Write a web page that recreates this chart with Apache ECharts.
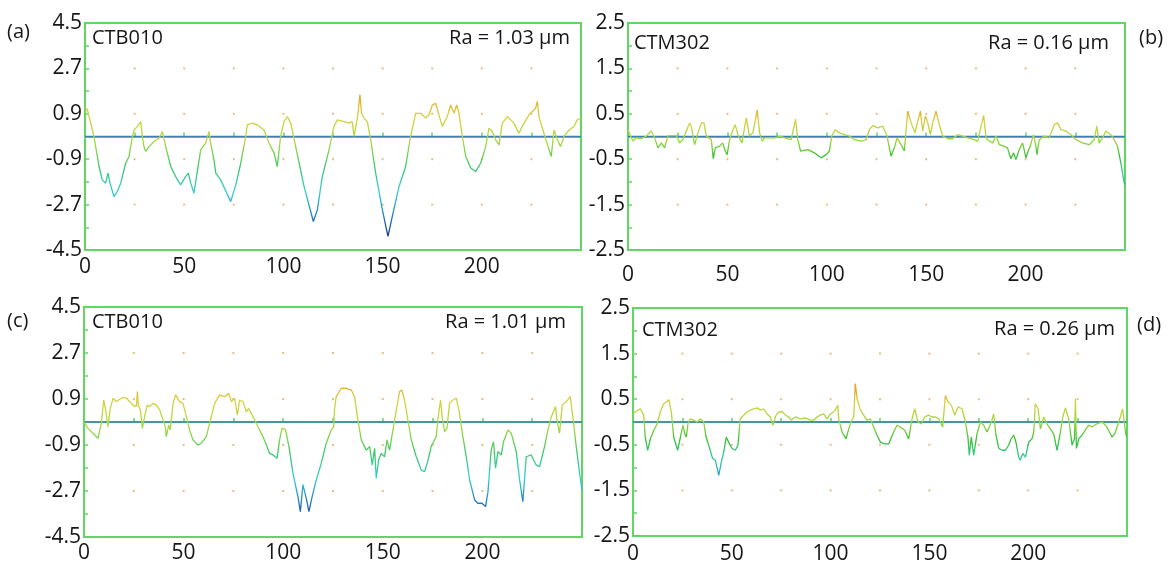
<!DOCTYPE html>
<html>
<head>
<meta charset="utf-8">
<title>Surface roughness profiles</title>
<script src="https://cdn.jsdelivr.net/npm/echarts@6/dist/echarts.min.js"></script>
<style>
  html, body { margin: 0; padding: 0; background: #ffffff; }
  #chart { width: 1171px; height: 565px; }
</style>
</head>
<body>
<div id="chart"></div>
<script>
// Profile traces: [position, height in µm]
const profileA = [
  [0,1.15],[1.2,1.06],[2.9,0.53],[4.5,0],[7.1,-1.19],[8.7,-1.72],[10.4,-1.85],[11.6,-1.45],[12.6,-1.85],
  [14.6,-2.38],[16.3,-2.18],[18.0,-1.85],[20.5,-1.06],[22.2,-0.79],[23.9,0],[24.7,0.26],[26.4,0.40],
  [28.1,0.59],[28.9,0],[29.7,-0.40],[30.6,-0.59],[32.3,-0.40],[34.8,-0.20],[37.3,-0.07],[39.0,0.20],
  [40.7,-0.40],[43.2,-1.19],[45.7,-1.59],[48.2,-1.92],[50.7,-1.59],[52.1,-1.45],[53.3,-1.85],[54.9,-2.25],
  [56.6,-1.39],[58.3,-0.53],[60.8,-0.26],[62.5,0.20],[63.3,-0.26],[65.0,-0.92],[65.9,-1.45],[68.4,-1.72],
  [73.4,-2.58],[76.0,-1.92],[78.5,-1.06],[81.0,0],[81.8,0.46],[84.3,0.53],[86.9,0.46],[90.2,0.26],
  [92.7,-0.26],[95.3,-0.66],[96.9,-1.19],[98.6,0],[100.3,0.59],[102.0,0.79],[103.7,0.53],[106.2,-0.40],
  [110.4,-1.98],[115.1,-3.37],[117.1,-2.91],[119.6,-1.59],[123.0,-0.53],[125.5,0.40],[127.2,0.66],
  [130.5,0.59],[133.1,0.53],[134.7,0.59],[135.6,0],[137.3,0.73],[138.6,1.65],[139.4,0.92],[140.6,0.73],
  [142.3,0.59],[144.0,-0.13],[146.5,-1.45],[149.9,-2.91],[152.7,-3.96],[154.9,-3.17],[158.3,-1.98],
  [161.6,-1.19],[164.1,0],[166.7,0.92],[169.2,0.92],[171.7,0.73],[173.4,0.86],[175.1,1.25],[176.7,1.32],
  [178.4,0.86],[180.1,0.40],[182.6,0.79],[184.3,1.25],[186.0,0.92],[187.3,1.25],[188.5,0.92],[190.2,0],
  [191.9,-0.79],[194.4,-1.25],[196.9,-1.39],[199.4,-1.06],[202.0,-0.40],[203.6,0.33],[205.3,0.20],
  [207.0,-0.13],[208.7,-0.33],[210.3,0.53],[212.9,0.79],[216.2,0.53],[218.7,0.13],[220.4,0.40],
  [223.8,0.86],[227.1,1.12],[228.0,1.39],[228.8,0.79],[231.3,0.13],[233.9,-0.53],[235.0,-0.79],
  [236.4,0.26],[238.1,-0.13],[239.7,-0.40],[241.4,0],[244.0,0.26],[246.5,0.40],[248.1,0.66],[249.8,0.73]
];

const profileB = [
  [0,0.15],[1.3,0.01],[2.5,-0.10],[4.2,-0.03],[6.7,-0.05],[9.2,0.01],[11.7,0.12],[13.4,-0.03],[15.1,-0.25],
  [16.8,-0.14],[18.4,-0.25],[20.1,0.02],[22.6,0.02],[24.3,0.02],[26.0,-0.14],[27.6,-0.07],[29.3,0.12],
  [31.0,0.30],[31.8,0.23],[33.5,-0.18],[35.2,0.08],[36.9,0.30],[38.2,0.30],[39.4,0.01],[40.7,-0.03],
  [41.9,-0.07],[42.9,-0.49],[43.9,-0.25],[46.1,-0.21],[47.7,-0.14],[48.9,-0.32],[49.9,-0.40],[51.1,-0.07],
  [52.8,0.15],[53.9,0.26],[55.3,0.04],[57.3,-0.14],[59.5,0.41],[61.1,0.01],[62.8,0.08],[65.0,0.58],
  [66.2,0.08],[67.5,-0.10],[68.7,-0.03],[71.2,-0.03],[73.7,-0.03],[76.7,0.01],[78.7,-0.03],[82.1,-0.07],
  [84.3,0.38],[85.4,-0.07],[86.8,-0.32],[90.5,-0.29],[93.8,-0.36],[97.2,-0.47],[99.7,-0.40],[101.3,-0.32],
  [102.5,0.01],[104.2,0.15],[106.4,0.08],[108.9,0.04],[111.4,0.01],[113.9,-0.07],[117.3,-0.10],
  [119.8,-0.07],[121.4,0.15],[123.1,0.24],[125.6,0.19],[128.1,0.23],[130.3,0.01],[132.3,-0.43],
  [134.0,-0.25],[135.3,-0.03],[137.4,-0.18],[139.0,-0.32],[140.7,0.56],[142.4,0.30],[144.4,0.08],
  [145.7,0.34],[147.1,0.56],[148.2,0.12],[149.6,0.45],[150.8,0.30],[152.1,0.04],[153.3,0.30],[154.9,0.56],
  [156.6,0.26],[158.3,0.01],[160.8,-0.05],[163.3,-0.05],[165.8,0.04],[168.3,0.01],[170.9,-0.03],
  [174.2,-0.07],[175.9,-0.10],[177.6,0.23],[178.9,0.46],[180.1,-0.03],[181.7,-0.10],[183.4,-0.14],
  [185.1,0.01],[186.8,-0.18],[188.4,-0.20],[190.9,-0.25],[192.6,-0.49],[194.0,-0.36],[195.1,-0.51],
  [196.8,-0.29],[198.5,-0.14],[200.2,-0.47],[201.0,-0.36],[202.3,-0.21],[204.0,0.04],[205.2,-0.21],
  [205.7,-0.40],[206.9,-0.07],[209.4,0.01],[211.9,-0.03],[214.4,0.26],[216.1,0.30],[217.8,0.15],
  [220.3,0.12],[222.8,0.04],[225.3,-0.07],[228.6,-0.14],[232.0,-0.18],[234.5,-0.07],[235.8,0.23],
  [237.0,-0.14],[238.7,-0.03],[240.4,0.12],[242.9,0.04],[244.6,-0.07],[246.2,-0.21],[247.9,-0.58],
  [249.6,-1.02],[250,-1.06]
];

const profileC = [
  [0,0.01],[2.0,-0.25],[4.5,-0.44],[7.0,-0.64],[8.7,-0.05],[9.9,0.86],[10.9,0.47],[12.0,-0.18],[13.2,0.53],
  [14.6,0.93],[16.2,0.80],[17.9,0.89],[19.6,0.96],[21.3,0.93],[22.9,0.80],[24.6,0.66],[26.3,0.60],
  [26.8,1.19],[27.3,0.66],[28.3,0.47],[29.3,-0.25],[30.4,0.21],[31.8,0.66],[33.0,0.60],[34.6,0.73],
  [36.3,0.66],[38.0,0.47],[39.7,0.08],[40.8,-0.18],[41.3,-0.57],[42.5,-0.12],[43.3,-0.31],[44.7,0.73],
  [46.0,1.06],[48.0,0.80],[49.7,0.73],[51.4,0.21],[53.0,-0.31],[54.7,-0.70],[57.2,-0.90],[58.9,-0.83],
  [61.4,-0.57],[63.9,0.21],[65.6,0.73],[68.1,1.06],[70.6,0.99],[72.6,1.12],[74.0,0.80],[75.6,0.93],
  [77.0,0.27],[78.1,0.86],[79.8,0.80],[81.5,0.40],[82.6,0.53],[84.0,0.34],[85.7,0.08],[88.2,-0.31],
  [89.8,-0.57],[91.2,-0.83],[93.2,-1.23],[94.9,-1.29],[96.9,-1.42],[98.2,-0.70],[99.4,-0.25],[101.1,-0.29],
  [102.9,-0.96],[104.9,-2.01],[107.4,-2.92],[108.6,-3.51],[109.9,-2.45],[111.3,-2.90],[112.1,-3.17],
  [112.9,-3.51],[114.6,-2.90],[116.6,-2.27],[119.1,-1.62],[121.6,-0.83],[124.1,-0.31],[125.3,-0.21],
  [125.8,0.53],[126.6,0.99],[129.2,1.32],[131.7,1.32],[134.2,1.25],[135.8,0.99],[137.5,0.08],[139.2,-0.70],
  [141.7,-1.10],[143.4,-0.96],[144.7,-1.68],[145.9,-1.03],[146.7,-2.20],[147.9,-1.49],[149.2,-1.23],
  [150.9,-1.36],[152.1,-0.70],[153.4,-1.10],[155.1,-0.31],[156.8,0.47],[158.4,1.19],[159.6,1.25],
  [160.9,0.86],[162.6,0.08],[164.3,-0.70],[166.8,-1.36],[169.3,-1.88],[171.0,-1.94],[172.7,-1.49],
  [174.3,-0.96],[176.0,-0.70],[176.8,-0.57],[177.7,0.14],[179.0,0.86],[179.9,0.14],[181.0,-0.38],
  [182.2,-0.25],[183.5,0.73],[185.2,0.86],[186.9,0.93],[188.5,0.34],[190.2,-0.57],[191.9,-1.36],
  [193.6,-2.27],[196.1,-3.05],[197.7,-3.18],[199.8,-3.18],[201.6,-3.31],[202.8,-2.73],[204.4,-1.10],
  [205.6,-0.77],[206.6,-1.81],[207.8,-1.16],[209.5,-1.29],[210.6,-0.77],[212.8,-0.31],[214.5,-0.44],
  [217.0,-1.16],[218.7,-2.27],[220.3,-3.12],[221.2,-3.05],[222.0,-1.36],[224.5,-1.29],[227.0,-1.68],
  [228.7,-1.75],[231.2,-0.96],[232.9,-0.31],[234.6,0.21],[236.7,0.60],[237.4,0.08],[238.7,-0.44],
  [240.1,0.66],[242.1,0.80],[244.1,0.99],[245.4,0.21],[247.1,-0.96],[248.8,-2.01],[250,-2.66]
];

const profileD = [
  [0,0.18],[1.2,0.22],[3.7,0.29],[5.4,0.15],[6.2,-0.33],[7.4,-0.62],[8.8,-0.37],[10.5,-0.18],[12.2,-0.04],
  [13.8,0.22],[15.5,0.40],[16.9,0.44],[18.1,0.49],[19.4,0.22],[20.6,-0.33],[22.6,-0.62],[24.0,-0.33],
  [25.3,-0.07],[26.2,-0.26],[27.0,-0.33],[27.8,-0.04],[29.0,0.07],[30.7,0.04],[32.4,0],[34.1,0.07],
  [35.8,0],[37.0,-0.33],[38.6,-0.55],[40.3,-0.80],[41.7,-0.84],[43.4,-1.17],[44.7,-0.88],[45.9,-0.66],
  [47.2,-0.33],[48.8,-0.48],[50.1,-0.58],[51.8,-0.62],[53.1,-0.51],[54.3,0.07],[56.0,0.15],[57.7,0.22],
  [59.4,0.26],[61.1,0.29],[62.8,0.31],[64.5,0.26],[66.1,0.29],[67.8,0.18],[69.5,0.11],[70.7,-0.07],
  [72.4,0.15],[73.7,0.22],[75.4,0.23],[77.1,0.15],[78.8,0.11],[80.1,0.04],[82.2,0.11],[84.7,0.07],
  [87.2,0.09],[89.8,0.04],[91.4,0.04],[93.1,0.11],[94.8,0.15],[96.5,0.18],[98.2,0.07],[99.9,0.18],
  [101.6,0.22],[102.7,0.29],[103.6,0.37],[104.1,0.07],[105.8,-0.22],[107.8,-0.37],[109.2,-0.15],
  [110.3,0],[111.7,0.11],[112.5,0.84],[113.4,0.51],[115.1,0.26],[116.7,0.15],[118.4,0.04],[120.1,0.07],
  [121.8,-0.11],[123.5,-0.29],[125.2,-0.44],[127.2,-0.48],[129.4,-0.48],[131.9,-0.22],[133.6,-0.07],
  [135.3,-0.11],[137.5,-0.18],[139.5,-0.37],[141.2,0.07],[142.6,0.29],[144.2,0],[145.9,-0.04],
  [147.6,0.11],[149.6,0.15],[151.3,0.11],[153.0,0.11],[154.7,0.07],[156.7,-0.11],[158.1,0.58],
  [159.4,0.44],[161.1,0.37],[162.8,0.15],[164.5,0.33],[166.5,0.29],[168.2,0],[169.5,-0.33],[170.2,-0.73],
  [171.2,-0.33],[172.4,-0.73],[174.1,-0.26],[175.8,0],[177.5,-0.07],[179.2,-0.22],[181.4,0],[182.5,0.18],
  [183.7,-0.29],[185.1,-0.58],[186.8,-0.62],[188.4,-0.62],[190.1,-0.51],[191.3,-0.37],[192.7,-0.29],
  [193.8,-0.44],[195.2,-0.77],[196.0,-0.84],[197.2,-0.69],[198.6,-0.77],[200.3,-0.44],[201.9,-0.37],
  [202.8,-0.22],[203.6,0.40],[205.0,0.29],[206.2,-0.15],[207.8,0.11],[209.5,-0.04],[211.2,-0.15],
  [212.9,-0.26],[214.6,-0.62],[216.3,-0.22],[217.5,0.11],[218.8,0.31],[220.5,0.07],[222.2,-0.51],
  [223.4,-0.37],[223.9,0.51],[224.4,-0.58],[225.6,-0.37],[227.2,-0.29],[228.9,-0.18],[230.6,-0.07],
  [232.3,-0.11],[234.8,-0.04],[237.4,0],[239.1,-0.07],[240.7,-0.18],[242.4,-0.33],[243.8,-0.26],
  [245.0,-0.11],[246.6,0.11],[247.8,0.29],[248.8,-0.07],[249.5,-0.29],[250,-0.31]
];

// Panel annotations
const panelTags = ['(a)', '(b)', '(c)', '(d)'];
const sampleNames = ['CTB010', 'CTM302', 'CTB010', 'CTM302'];
const raLabels = ['Ra = 1.03 µm', 'Ra = 0.16 µm', 'Ra = 1.01 µm', 'Ra = 0.26 µm'];

// Axis ranges and tick spacing
const xRange = [0, 250];
const xStep = 25;
const xLabelStep = 50;
const yRangeWide = [-4.5, 4.5];
const yStepWide = 0.9;
const yRangeNarrow = [-2.5, 2.5];
const yStepNarrow = 0.5;

// Reference dot lattice positions
const dotCols = [25, 50, 75, 100, 125, 150, 175, 200, 225];
const dotRowsWide = [2.7, 0.9, -0.9, -2.7];
const dotRowsNarrow = [1.5, 0.5, -0.5, -1.5];

const FONT = "'Open Sans', 'Noto Sans', sans-serif";
const GREEN = '#62d662';
const TEXT = '#161616';
const ZERO_LINE = '#3e80b6';

const rampWide = ['#14287e', '#2178c0', '#33cfd2', '#3cc866', '#a6da3e', '#d8d03e', '#e6a024'];
const rampNarrow = ['#2a9fc8', '#35c8a2', '#35c035', '#9fd83e', '#d5d03e', '#e6a024'];

const panels = [
  { grid: { left: 85, top: 23, width: 496, height: 227 }, yr: yRangeWide, ys: yStepWide,
    rows: dotRowsWide, data: profileA, cmin: -4.2, cmax: 1.8, ramp: rampWide, xMargin: 7 },
  { grid: { left: 628, top: 23, width: 497, height: 227 }, yr: yRangeNarrow, ys: yStepNarrow,
    rows: dotRowsNarrow, data: profileB, cmin: -1.2, cmax: 0.7, ramp: rampNarrow, xMargin: 15 },
  { grid: { left: 84, top: 307, width: 498, height: 230 }, yr: yRangeWide, ys: yStepWide,
    rows: dotRowsWide, data: profileC, cmin: -4.2, cmax: 1.8, ramp: rampWide, xMargin: 6 },
  { grid: { left: 633, top: 308, width: 494, height: 229 }, yr: yRangeNarrow, ys: yStepNarrow,
    rows: dotRowsNarrow, data: profileD, cmin: -1.2, cmax: 0.8, ramp: rampNarrow, xMargin: 8 }
];

const grids = [], xAxes = [], yAxes = [], series = [], visualMaps = [];

panels.forEach((p, i) => {
  grids.push(Object.assign({ show: true, borderColor: GREEN, borderWidth: 2, backgroundColor: '#fff' }, p.grid));

  xAxes.push({
    type: 'value', gridIndex: i, min: xRange[0], max: xRange[1], interval: xStep,
    axisLine: { show: true, lineStyle: { color: GREEN, width: 2 } },
    axisTick: { show: true, inside: true, length: 4, lineStyle: { color: GREEN, width: 1.5 } },
    splitLine: { show: false },
    axisLabel: {
      margin: p.xMargin, color: TEXT, fontFamily: FONT, fontSize: 21,
      formatter: v => (v % xLabelStep === 0 && v < xRange[1]) ? String(v) : ''
    }
  });

  yAxes.push({
    type: 'value', gridIndex: i, min: p.yr[0], max: p.yr[1], interval: p.ys,
    axisLine: { show: true, lineStyle: { color: GREEN, width: 2 } },
    axisTick: { show: true, inside: true, length: 4, lineStyle: { color: GREEN, width: 1.5 } },
    splitLine: { show: false },
    axisLabel: {
      margin: 3, color: TEXT, fontFamily: FONT, fontSize: 21,
      formatter: v => {
        const k = Math.round((v - p.yr[0]) / p.ys);
        return k % 2 === 0 ? v.toFixed(1) : '';
      }
    }
  });

  // faint lattice of dots at the labelled ticks
  const dots = [];
  dotCols.forEach(x => p.rows.forEach(y => dots.push([x, y])));
  series.push({
    type: 'scatter', xAxisIndex: i, yAxisIndex: i, data: dots, symbol: 'rect', symbolSize: 2,
    itemStyle: { color: '#dcb25c' }, silent: true, z: 1
  });

  // mean line
  series.push({
    type: 'line', xAxisIndex: i, yAxisIndex: i, data: [[xRange[0], 0], [xRange[1], 0]],
    symbol: 'none', lineStyle: { color: ZERO_LINE, width: 1.6 }, silent: true, z: 2
  });

  // roughness trace coloured by height
  const idx = series.length;
  series.push({
    type: 'line', xAxisIndex: i, yAxisIndex: i, data: p.data, symbol: 'none',
    lineStyle: { width: 1.3 }, silent: true, z: 3
  });
  visualMaps.push({
    type: 'continuous', show: false, seriesIndex: idx, dimension: 1,
    min: p.cmin, max: p.cmax, inRange: { color: p.ramp }
  });
});

// panel tags, sample names and Ra values
const textSpots = [
  { tag: [7, 32], name: [92, 38], ra: [570, 38] },
  { tag: [1139, 38], name: [634, 43], ra: [1109, 43] },
  { tag: [7, 321], name: [92, 322], ra: [566, 322] },
  { tag: [1137, 325], name: [642, 330], ra: [1115, 329] }
];
const graphics = [];
textSpots.forEach((s, i) => {
  const mk = (txt, pos, align) => ({
    type: 'text', x: pos[0], y: pos[1], silent: true, z: 10,
    style: { text: txt, fill: TEXT, font: '20px ' + FONT, textAlign: align, textVerticalAlign: 'middle' }
  });
  graphics.push(mk(panelTags[i], s.tag, 'left'));
  graphics.push(mk(sampleNames[i], s.name, 'left'));
  graphics.push(mk(raLabels[i], s.ra, 'right'));
});

const chart = echarts.init(document.getElementById('chart'), null, { renderer: 'canvas' });
chart.setOption({
  animation: false,
  backgroundColor: '#ffffff',
  grid: grids,
  xAxis: xAxes,
  yAxis: yAxes,
  visualMap: visualMaps,
  series: series,
  graphic: graphics
});
</script>
</body>
</html>
